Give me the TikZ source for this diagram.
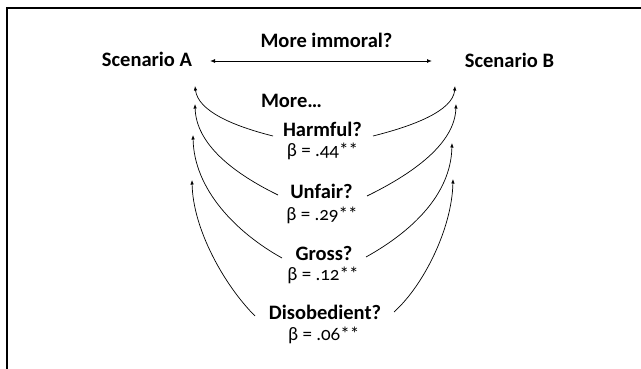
\documentclass[tikz,border=0pt]{standalone}
\usepackage{fontspec}
\setmainfont{Carlito}
\usetikzlibrary{arrows.meta}
\begin{document}
\begin{tikzpicture}[x=1pt,y=-1pt,
  lbl/.style={font=\fontsize{20.5}{24}\selectfont\bfseries, inner sep=0pt, anchor=base},
  betalbl/.style={font=\fontsize{19}{22}\selectfont\addfontfeatures{Numbers=OldStyle}, inner sep=0pt, anchor=base},
  conn/.style={line width=0.7pt, -{Latex[length=4.5pt,width=3.5pt]}},
  frameline/.style={line width=2pt}]
\useasboundingbox (0,0) rectangle (641,369);
\draw[frameline] (7,369) -- (7,8) -- (641,8);

\node[lbl] (scA) at (147,67) {Scenario A};
\node[lbl] (scB) at (509.5,68) {Scenario B};
\node[lbl] (immoral) at (326.5,48) {More immoral?};
\node[lbl] (more) at (291.5,108) {More\ldots};

\coordinate (arrL) at (210,61);
\coordinate (arrR) at (432,61);
\draw[line width=0.9pt, {Latex[length=5pt,width=4pt]}-{Latex[length=5pt,width=4pt]}] (arrL) -- (arrR);

\node[lbl] (harm) at (322.5,137) {Harmful?};
\node[betalbl] (b1) at (322.5,157) {β = .44**};
\node[lbl] (unfair) at (321.5,199) {Unfair?};
\node[betalbl] (b2) at (322,220) {β = .29**};
\node[lbl] (gross) at (324,260) {Gross?};
\node[betalbl] (b3) at (323,280) {β = .12**};
\node[lbl] (disob) at (325,319) {Disobedient?};
\node[betalbl] (b4) at (323.7,340) {β = .06**};

% tips
\coordinate (a1) at (195,86);
\coordinate (a2) at (195,104);
\coordinate (a3) at (193,135);
\coordinate (a4) at (192,180);
\coordinate (bb1) at (455,86);
\coordinate (bb2) at (456,104);
\coordinate (bb3) at (452,143);
\coordinate (bb4) at (453,179);

% starts
\coordinate (h1) at (273,136);
\coordinate (h2) at (373,136);
\coordinate (u1) at (278,195);
\coordinate (u2) at (367,196);
\coordinate (g1) at (282,258);
\coordinate (g2) at (366,257);
\coordinate (d1) at (255,316);
\coordinate (d2) at (394,312);

\draw[conn] (h1) .. controls (233,126) and (198,111) .. (a1);
\draw[conn] (u1) .. controls (233,173) and (196,144) .. (a2);
\draw[conn] (g1) .. controls (237,233) and (194,190) .. (a3);
\draw[conn] (d1) .. controls (225,286) and (193,230) .. (a4);

\draw[conn] (h2) .. controls (413,126) and (453,111) .. (bb1);
\draw[conn] (u2) .. controls (412,174) and (455,144) .. (bb2);
\draw[conn] (g2) .. controls (411,232) and (451,195) .. (bb3);
\draw[conn] (d2) .. controls (424,285) and (452,228) .. (bb4);
\end{tikzpicture}
\end{document}
